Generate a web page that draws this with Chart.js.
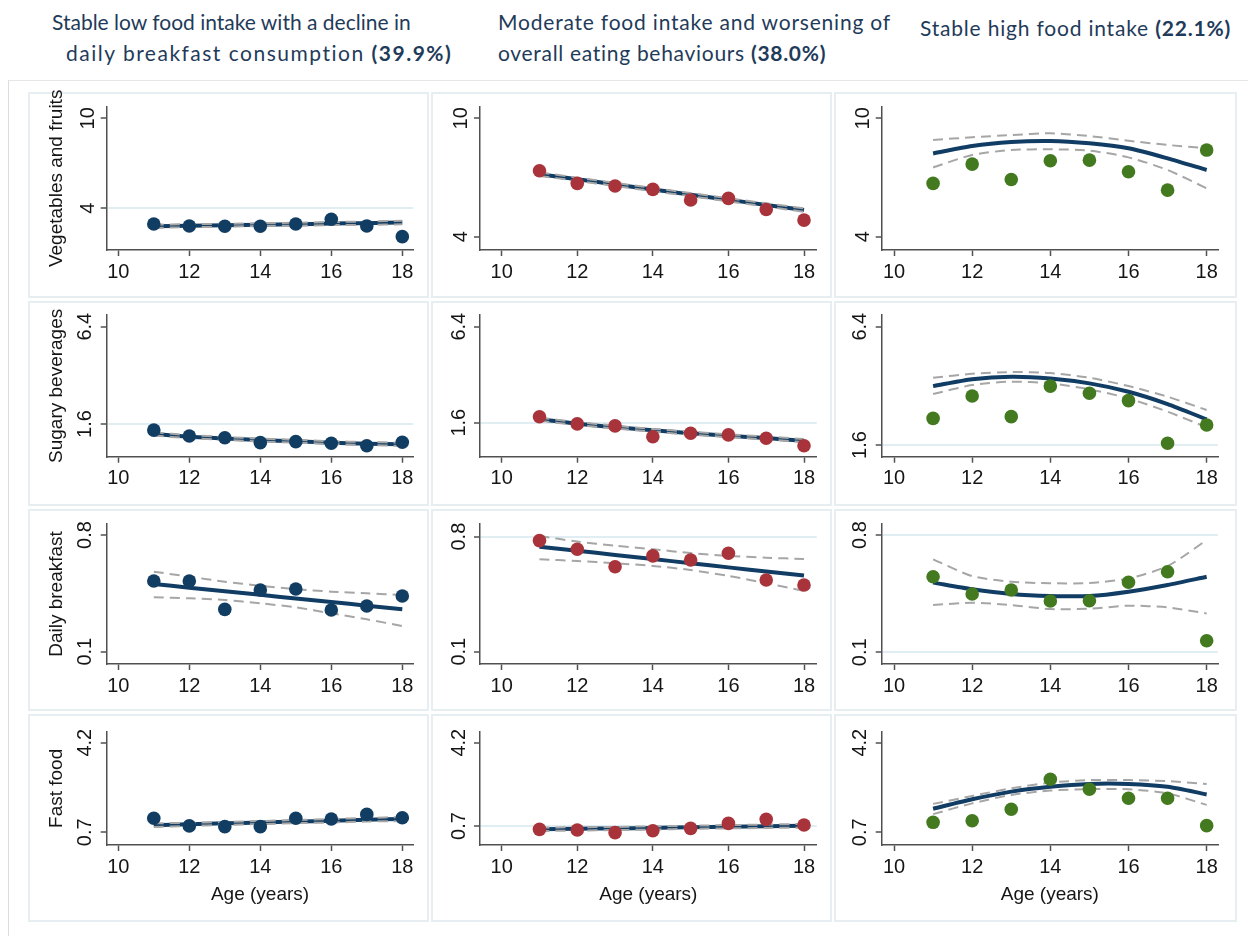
<!DOCTYPE html>
<html>
<head>
<meta charset="utf-8">
<title>Food intake trajectories</title>
<script src="https://cdn.jsdelivr.net/npm/chart.js@4.4.1/dist/chart.umd.min.js"></script>
<style>
  html, body { margin: 0; padding: 0; background: #fff; }
  body { width: 1248px; height: 936px; position: relative; overflow: hidden; }
  .head { position: absolute; white-space: nowrap; font-family: Lato, "Open Sans", sans-serif;
          font-size: 21px; line-height: 25px; color: #1f3b5a; }
  .head b { font-weight: 700; }
  #frame { position: absolute; left: 8px; top: 80px; width: 1240px; height: 856px;
           border-left: 1px solid #dcdcdc; border-top: 1px solid #e6e6e6; }
  .box { position: absolute; border: 2px solid #e6eef2; box-sizing: border-box; }
  canvas { position: absolute; }
</style>
</head>
<body>
<div id="frame"></div>
<div class="head" style="left:52px;top:9px">Stable low food intake with a decline in</div>
<div class="head" style="left:66px;top:40px;letter-spacing:1.5px">daily breakfast consumption <b>(39.9%)</b></div>
<div class="head" style="left:498px;top:9px;letter-spacing:0.8px">Moderate food intake and worsening of</div>
<div class="head" style="left:498px;top:40px;letter-spacing:0.7px">overall eating behaviours <b>(38.0%)</b></div>
<div class="head" style="left:920px;top:15px;letter-spacing:0.8px">Stable high food intake <b>(22.1%)</b></div>

<script>
const ages = [11, 12, 13, 14, 15, 16, 17, 18];
const ageTicks = [10, 12, 14, 16, 18];
const foodLabels = ['Vegetables and fruits', 'Sugary beverages', 'Daily breakfast', 'Fast food'];
const foodTicks = [[4, 10], [1.6, 6.4], [0.1, 0.8], [0.7, 4.2]];

// Vegetables and fruits
const vegLowObs = [2.95, 2.82, 2.80, 2.80, 2.95, 3.27, 2.82, 2.11];
const vegLowFit = [2.80, 2.84, 2.87, 2.91, 2.94, 2.98, 3.01, 3.05];
const vegLowUp  = [2.91, 2.94, 2.97, 3.00, 3.04, 3.08, 3.12, 3.17];
const vegLowLo  = [2.69, 2.74, 2.77, 2.82, 2.84, 2.88, 2.90, 2.93];

const vegModObs = [7.34, 6.70, 6.57, 6.40, 5.86, 5.94, 5.38, 4.84];
const vegModFit = [7.17, 6.91, 6.65, 6.39, 6.13, 5.87, 5.61, 5.35];
const vegModUp  = [7.26, 6.99, 6.73, 6.47, 6.21, 5.95, 5.69, 5.44];
const vegModLo  = [7.08, 6.83, 6.57, 6.31, 6.05, 5.79, 5.53, 5.26];

const vegHighObs = [6.70, 7.68, 6.90, 7.85, 7.88, 7.29, 6.36, 8.39];
const vegHighFit = [8.22, 8.60, 8.80, 8.85, 8.73, 8.48, 7.97, 7.38];
const vegHighUp  = [8.90, 9.04, 9.15, 9.24, 9.10, 8.86, 8.65, 8.48];
const vegHighLo  = [7.51, 8.14, 8.39, 8.43, 8.36, 8.02, 7.38, 6.45];

// Sugary beverages
const sugLowObs = [1.30, 1.01, 0.92, 0.68, 0.73, 0.65, 0.53, 0.70];
const sugLowFit = [1.11, 0.97, 0.89, 0.81, 0.75, 0.68, 0.63, 0.60];
const sugLowUp  = [1.19, 1.05, 0.96, 0.88, 0.82, 0.75, 0.71, 0.68];
const sugLowLo  = [1.03, 0.90, 0.82, 0.74, 0.68, 0.61, 0.56, 0.52];

const sugModObs = [1.90, 1.54, 1.44, 0.90, 1.07, 0.99, 0.82, 0.45];
const sugModFit = [1.77, 1.55, 1.38, 1.22, 1.07, 0.95, 0.83, 0.70];
const sugModUp  = [1.85, 1.63, 1.45, 1.29, 1.15, 1.02, 0.91, 0.78];
const sugModLo  = [1.70, 1.48, 1.31, 1.15, 1.00, 0.88, 0.76, 0.63];

const sugHighObs = [2.68, 3.59, 2.75, 3.99, 3.70, 3.40, 1.67, 2.41];
const sugHighFit = [3.99, 4.27, 4.37, 4.30, 4.10, 3.76, 3.26, 2.64];
const sugHighUp  = [4.33, 4.49, 4.56, 4.52, 4.33, 3.99, 3.56, 3.02];
const sugHighLo  = [3.67, 4.03, 4.17, 4.10, 3.86, 3.49, 2.95, 2.32];

// Daily breakfast
const bfLowObs = [0.524, 0.524, 0.354, 0.470, 0.476, 0.350, 0.374, 0.434];
const bfLowFit = [0.506, 0.484, 0.463, 0.441, 0.419, 0.398, 0.376, 0.354];
const bfLowUp  = [0.580, 0.550, 0.520, 0.495, 0.475, 0.460, 0.450, 0.440];
const bfLowLo  = [0.426, 0.420, 0.410, 0.390, 0.366, 0.330, 0.294, 0.254];

const bfModObs = [0.776, 0.723, 0.617, 0.683, 0.658, 0.699, 0.536, 0.506];
const bfModFit = [0.739, 0.714, 0.689, 0.664, 0.638, 0.613, 0.588, 0.563];
const bfModUp  = [0.804, 0.770, 0.745, 0.724, 0.700, 0.683, 0.672, 0.664];
const bfModLo  = [0.662, 0.652, 0.638, 0.622, 0.597, 0.561, 0.517, 0.469];

const bfHighObs = [0.551, 0.448, 0.472, 0.406, 0.408, 0.518, 0.581, 0.169];
const bfHighFit = [0.516, 0.476, 0.448, 0.436, 0.436, 0.462, 0.502, 0.551];
const bfHighUp  = [0.655, 0.555, 0.521, 0.512, 0.514, 0.541, 0.615, 0.770];
const bfHighLo  = [0.382, 0.396, 0.382, 0.358, 0.360, 0.378, 0.368, 0.332];

// Fast food
const ffLowObs = [1.25, 0.95, 0.92, 0.92, 1.25, 1.22, 1.40, 1.27];
const ffLowFit = [0.98, 1.01, 1.05, 1.08, 1.12, 1.15, 1.19, 1.22];
const ffLowUp  = [1.05, 1.07, 1.10, 1.14, 1.18, 1.22, 1.26, 1.30];
const ffLowLo  = [0.91, 0.95, 0.99, 1.02, 1.06, 1.08, 1.12, 1.14];

const ffModObs = [0.56, 0.53, 0.42, 0.50, 0.60, 0.81, 0.98, 0.74];
const ffModFit = [0.56, 0.58, 0.60, 0.62, 0.65, 0.67, 0.69, 0.71];
const ffModUp  = [0.63, 0.65, 0.66, 0.69, 0.71, 0.74, 0.76, 0.79];
const ffModLo  = [0.49, 0.51, 0.53, 0.55, 0.58, 0.60, 0.62, 0.63];

const ffHighObs = [1.09, 1.15, 1.60, 2.77, 2.38, 2.03, 2.03, 0.96];
const ffHighFit = [1.62, 1.99, 2.29, 2.48, 2.59, 2.59, 2.48, 2.18];
const ffHighUp  = [1.81, 2.12, 2.42, 2.64, 2.74, 2.74, 2.70, 2.59];
const ffHighLo  = [1.41, 1.83, 2.16, 2.33, 2.39, 2.38, 2.22, 1.77];

const series = [
  [[vegLowObs, vegLowFit, vegLowUp, vegLowLo], [vegModObs, vegModFit, vegModUp, vegModLo], [vegHighObs, vegHighFit, vegHighUp, vegHighLo]],
  [[sugLowObs, sugLowFit, sugLowUp, sugLowLo], [sugModObs, sugModFit, sugModUp, sugModLo], [sugHighObs, sugHighFit, sugHighUp, sugHighLo]],
  [[bfLowObs, bfLowFit, bfLowUp, bfLowLo], [bfModObs, bfModFit, bfModUp, bfModLo], [bfHighObs, bfHighFit, bfHighUp, bfHighLo]],
  [[ffLowObs, ffLowFit, ffLowUp, ffLowLo], [ffModObs, ffModFit, ffModUp, ffModLo], [ffHighObs, ffHighFit, ffHighUp, ffHighLo]]
];

// axis extents of each panel (each panel has its own y scale in the original)
const xRanges = [[9.673, 18.31], [9.426, 18.336], [9.685, 18.29]];
const yRanges = [
  [[1.22, 10.77], [3.326, 10.588], [3.326, 10.588]],
  [[-0.013, 6.977], [-0.1, 6.985], [1.125, 6.875]],
  [[0.026, 0.866], [0.025, 0.877], [0.030, 0.866]],
  [[0.204, 4.63], [-0.098, 4.662], [0.204, 4.63]]
];
// tick values that also get a faint grid line
const gridAt = [
  [[4], [], []],
  [[1.6], [1.6], [1.6]],
  [[], [0.8], [0.8, 0.1]],
  [[], [0.7], []]
];

// layout
const plotX = [[106.7, 413.3], [480, 816.7], [881.7, 1218]];
const plotY = [[106.7, 250], [315, 456.7], [524, 664], [731.7, 845]];
const boxX = [[28, 429], [431, 832], [834, 1237]];
const boxY = [[92, 298], [301, 506], [509, 711], [714, 922]];
const groupColors = ['#123d63', '#a8333a', '#437a20'];
const fitColor = '#113d64';
const ciColor = '#a6a6a6';
const axisColor = '#505050';

Chart.defaults.font.family = '"Liberation Sans", Arial, sans-serif';
Chart.defaults.color = '#151515';

const xy = (vals) => vals.map((v, i) => ({ x: ages[i], y: v }));

series.forEach((row, r) => row.forEach((s, c) => {
  const box = document.createElement('div');
  box.className = 'box';
  box.style.left = boxX[c][0] + 'px';
  box.style.top = boxY[r][0] + 'px';
  box.style.width = (boxX[c][1] - boxX[c][0]) + 'px';
  box.style.height = (boxY[r][1] - boxY[r][0]) + 'px';
  document.body.appendChild(box);

  const [pl, pr] = plotX[c];
  const [pt, pb] = plotY[r];
  const left = c === 0 ? 45 : Math.round(pl - 46);
  const top = Math.round(pt - 30);
  const right = Math.round(pr + 16);
  const bottom = Math.round(pb + (r === 3 ? 61 : 40));
  const yW = pl - left;
  const xH = bottom - pb;

  const canvas = document.createElement('canvas');
  canvas.width = right - left;
  canvas.height = bottom - top;
  canvas.style.left = left + 'px';
  canvas.style.top = top + 'px';
  document.body.appendChild(canvas);

  const [obs, fit, up, lo] = s;
  const color = groupColors[c];
  const grids = gridAt[r][c];

  new Chart(canvas, {
    type: 'scatter',
    data: {
      datasets: [
        { data: xy(obs), pointRadius: 6.8, pointBackgroundColor: color, pointBorderWidth: 0, order: 0 },
        { data: xy(up), showLine: true, pointRadius: 0, borderColor: ciColor, borderWidth: 2, borderDash: [10, 6], tension: 0.25, order: 1 },
        { data: xy(lo), showLine: true, pointRadius: 0, borderColor: ciColor, borderWidth: 2, borderDash: [10, 6], tension: 0.25, order: 1 },
        { data: xy(fit), showLine: true, pointRadius: 0, borderColor: fitColor, borderWidth: 4, tension: 0.25, order: 2 }
      ]
    },
    options: {
      responsive: false,
      animation: false,
      events: [],
      layout: { padding: { left: 0, top: pt - top, right: right - pr, bottom: 0 } },
      plugins: { legend: { display: false }, tooltip: { enabled: false } },
      scales: {
        x: {
          type: 'linear',
          min: xRanges[c][0],
          max: xRanges[c][1],
          afterBuildTicks: (scale) => { scale.ticks = ageTicks.map(v => ({ value: v })); },
          afterFit: (scale) => { scale.height = xH; },
          ticks: { font: { size: 20 }, padding: 4, maxRotation: 0, callback: (v) => String(v) },
          grid: { drawOnChartArea: false, tickLength: 6, tickColor: axisColor, tickWidth: 1.5 },
          border: { display: true, color: axisColor, width: 1.5 },
          title: { display: r === 3, text: 'Age (years)', font: { size: 19 }, padding: 0 }
        },
        y: {
          type: 'linear',
          min: yRanges[r][c][0],
          max: yRanges[r][c][1],
          afterBuildTicks: (scale) => { scale.ticks = foodTicks[r].map(v => ({ value: v })); },
          afterFit: (scale) => { scale.width = yW; },
          ticks: { font: { size: 20 }, padding: 1, minRotation: 90, maxRotation: 90, crossAlign: 'center', callback: (v) => String(v) },
          grid: {
            drawOnChartArea: true,
            color: (ctx) => (ctx.tick && grids.includes(ctx.tick.value)) ? '#e0edf2' : 'rgba(0,0,0,0)',
            lineWidth: 2,
            tickLength: 6,
            tickColor: axisColor,
            tickWidth: 1.5
          },
          border: { display: true, color: axisColor, width: 1.5 },
          title: { display: c === 0, text: foodLabels[r], font: { size: 19 }, padding: 0 }
        }
      }
    }
  });
}));
</script>
</body>
</html>
